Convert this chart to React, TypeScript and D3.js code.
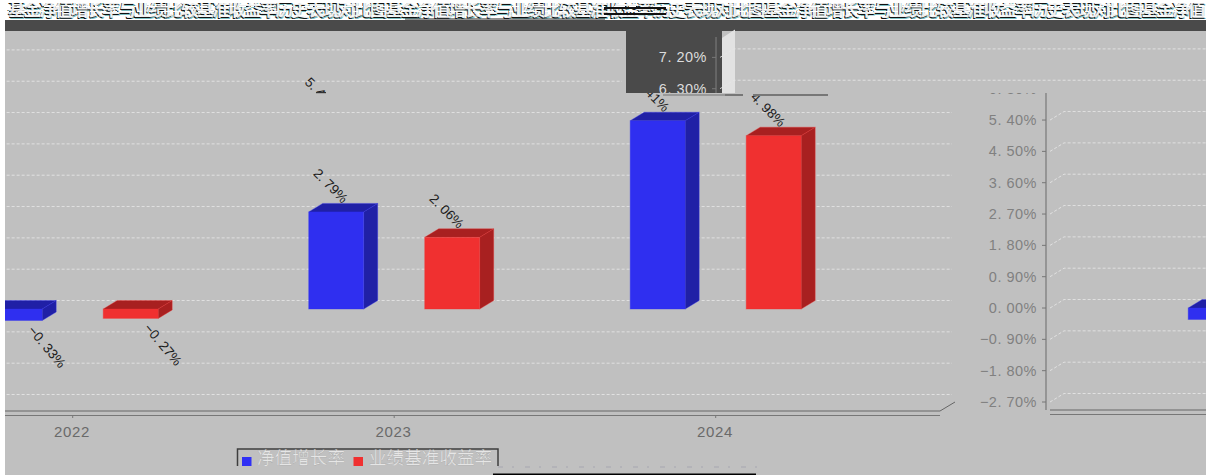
import React from "react";
import * as d3 from "d3";

const years = ["2022", "2023", "2024"];
const netGrowth = [-0.33, 2.79, 5.41];
const benchmark = [-0.27, 2.06, 4.98];
const yTicks = [-2.7, -1.8, -0.9, 0, 0.9, 1.8, 2.7, 3.6, 4.5, 5.4, 6.3, 7.2];
const legendNames = ["净值增长率", "业绩基准收益率"];
const titleText = "基金净值增长率与业绩比较基准收益率历史表现对比图基金净值增长率与业绩比较基准收益率历史表现对比图基金净值增长率与业绩比较基准收益率历史表现对比图基金净值";

const W = 1208, H = 475, LEFT = 5, RIGHT = 1206, PERIOD = 1201;
const BG = "#c0c0c0", DARK = "#4a4a4a";
const DX = 14, DY = 8.5, BAR_W = 55, OFF = 58;

const x = d3.scalePoint<string>().domain(years).range([72.7, 715.7]);
const y = d3.scaleLinear().domain([-2.7, 7.2]).range([403, 58.4]);
const poly = d3.line();
const fmt = (v: number) => d3.format(".2f")(v).replace("-", "−").replace(".", ". ") + "%";
const dataLabel = (v: number) => d3.format(".2f")(v).replace(".", ". ") + "%";

const axisX = -155, plotL = -137, plotR = 952, floorY = 411;

function Bar({ left, v, front, dark }: { left: number; v: number; front: string; dark: string }) {
  const y0 = y(0), yv = y(v);
  const top = Math.min(y0, yv), bottom = Math.max(y0, yv), r = left + BAR_W;
  const stroke = { stroke: front, strokeOpacity: 0.35, strokeWidth: 1 };
  return (
    <g>
      <path d={poly([[left, top], [left + DX, top - DY], [r + DX, top - DY], [r, top]])!} fill={dark} {...stroke} />
      <path d={poly([[r, top], [r + DX, top - DY], [r + DX, bottom - DY], [r, bottom]])!} fill={dark} {...stroke} />
      <rect x={left} y={top} width={BAR_W} height={bottom - top} fill={front} {...stroke} />
    </g>
  );
}

function Label({ cx, v }: { cx: number; v: number }) {
  const pos = v >= 0;
  const tx = pos ? cx + 6 : cx + 20;
  const ty = pos ? y(v) - 8 : y(v) + 4;
  return (
    <text
      transform={`translate(${tx},${ty}) rotate(${pos ? 45 : 50})`}
      textAnchor={pos ? "end" : "start"}
      dominantBaseline={pos ? "auto" : "hanging"}
      fontFamily="Liberation Sans"
      fontSize={13.5}
      fill="#1c1c1c"
    >
      {dataLabel(v)}
    </text>
  );
}

function Scene({ labelColor }: { labelColor: string }) {
  return (
    <g>
      {yTicks.map((t) => {
        const yy = y(t);
        return (
          <g key={t}>
            <path
              d={poly([[plotL - DX, yy], [plotL, yy - DY], [plotR, yy - DY]])!}
              fill="none"
              stroke="#e6e6e6"
              strokeWidth={1}
              strokeDasharray="3 2"
              strokeOpacity={0.85}
            />
            <line x1={axisX - 4} x2={axisX} y1={yy} y2={yy} stroke="#777" />
            <text
              x={axisX - 9}
              y={yy}
              dy="0.35em"
              textAnchor="end"
              fontFamily="Liberation Sans"
              fontSize={14.5}
              letterSpacing={0.5}
              fill={labelColor}
            >
              {fmt(t)}
            </text>
          </g>
        );
      })}
      <line x1={axisX} x2={axisX} y1={38} y2={floorY} stroke="#777" strokeWidth={1.2} />
      <path
        d={poly([[plotL - DX, floorY], [plotR - 12, floorY], [plotR + 3, floorY - DY - 0.5]])!}
        fill="none"
        stroke="#666"
      />
      <line x1={plotL - DX} x2={plotR - 12} y1={floorY + 4.5} y2={floorY + 4.5} stroke="#777" />
      {years.map((c, i) => {
        const cx = x(c)!;
        return (
          <g key={c}>
            <line x1={cx} x2={cx} y1={floorY + 4.5} y2={floorY + 7} stroke="#777" />
            <text
              x={cx - 0.7}
              y={432}
              dy="0.35em"
              textAnchor="middle"
              fontFamily="Liberation Sans"
              fontSize={15}
              letterSpacing={0.6}
              fill="#6a6a6a"
            >
              {c}
            </text>
            <Bar left={cx - OFF - BAR_W / 2} v={netGrowth[i]} front="#2f2ff0" dark="#2020a6" />
            <Bar left={cx + OFF - BAR_W / 2} v={benchmark[i]} front="#f03030" dark="#a82020" />
            <Label cx={cx - OFF} v={netGrowth[i]} />
            <Label cx={cx + OFF} v={benchmark[i]} />
          </g>
        );
      })}
    </g>
  );
}

function Layer({ id, dx, dy, labelColor = "#808080" }: { id: string; dx: number; dy: number; labelColor?: string }) {
  return (
    <g clipPath={`url(#${id})`}>
      <g transform={`translate(${dx},${dy})`}>
        <Scene labelColor={labelColor} />
      </g>
    </g>
  );
}

export default function App() {
  const legendY = 464;
  return (
    <svg width={W} height={H} style={{ position: "absolute", left: 0, top: 0, display: "block" }}>
      <defs>
        <clipPath id="mainL"><rect x={LEFT} y={93} width={975 - LEFT} height={H - 93} /></clipPath>
        <clipPath id="mainR"><rect x={975} y={93} width={RIGHT - 975} height={H - 93} /></clipPath>
        <clipPath id="bandL"><rect x={LEFT} y={31} width={626 - LEFT} height={62} /></clipPath>
        <clipPath id="bandR"><rect x={626} y={30} width={RIGHT - 626} height={63} /></clipPath>
        <clipPath id="legendClip"><rect x={230} y={440} width={280} height={26} /></clipPath>
        <clipPath id="titleClip"><rect x={LEFT} y={3} width={RIGHT - LEFT + 2} height={16} /></clipPath>
      </defs>

      <rect width={W} height={H} fill="#fff" />
      <rect x={LEFT} y={20} width={RIGHT - LEFT} height={H - 20} fill={BG} />
      <rect x={LEFT} y={20} width={RIGHT - LEFT} height={11} fill={DARK} />

      <g clipPath="url(#titleClip)" fontFamily="Noto Sans CJK SC" fontSize={18} fontWeight={700}>
        <text x={8} y={18} textLength={1198} lengthAdjust="spacing" fill="#108a90" opacity={0.55}>{titleText}</text>
        <text x={7} y={17} textLength={1198} lengthAdjust="spacing" fill="#111">{titleText}</text>
        <text x={7.8} y={15.6} textLength={1198} lengthAdjust="spacing" fill="#fff" opacity={0.92}>{titleText}</text>
      </g>
      <g stroke="#fff" strokeWidth={1.2}>
        <line x1={LEFT} x2={RIGHT} y1={6.5} y2={6.5} strokeDasharray="7 5 3 9 11 4" />
        <line x1={LEFT} x2={RIGHT} y1={11.5} y2={11.5} strokeDasharray="4 9 8 3 5 7" />
        <line x1={LEFT} x2={RIGHT} y1={16} y2={16} strokeDasharray="9 4 3 6 6 8" />
      </g>
      <rect x={604} y={7} width={62} height={2} fill="#111" />
      <rect x={604} y={13} width={62} height={2} fill="#111" />
      <rect x={405} y={18.5} width={200} height={1} fill="#222" />

      {/* upper band, displaced */}
      <rect x={626} y={30} width={96} height={63} fill={DARK} />
      <path d={poly([[722, 93], [722, 38], [735, 29.5], [735, 93]])!} fill="#e2e2e2" />
      <Layer id="bandL" dx={-330} dy={0} />
      <Layer id="bandR" dx={871} dy={-1} labelColor="#dcdcdc" />

      {/* main area */}
      <Layer id="mainL" dx={0} dy={0} />
      <Layer id="mainR" dx={PERIOD} dy={-1} />

      {/* seam fragments */}
      <rect x={316} y={92} width={10} height={1.2} fill="#333" />
      <rect x={663} y={94} width={80} height={2} fill="#999" />
      <rect x={725} y={94} width={18} height={2} fill="#777" />
      <rect x={753} y={94} width={75} height={2} fill="#777" />

      {/* legend, cut off by the seam */}
      <g clipPath="url(#legendClip)">
        <rect x={237.5} y={449} width={260.5} height={40} fill="none" stroke="#3e3e3e" strokeWidth={1.5} />
        <rect x={242} y={457} width={9.5} height={9.5} fill="#3030f5" />
        <rect x={353.5} y={457} width={9.5} height={9.5} fill="#f03030" />
        {legendNames.map((n, i) => (
          <text
            key={n}
            x={i === 0 ? 257 : 369}
            y={legendY}
            fontFamily="Noto Sans CJK SC"
            fontSize={17.6}
            fill="#e6e6e6"
            stroke="#8a8a8a"
            strokeWidth={0.2}
          >
            {n}
          </text>
        ))}
      </g>
      <line x1={498} x2={760} y1={467} y2={467} stroke="#a6a6b0" strokeWidth={1} strokeDasharray="5 9 2 11" />
      <rect x={493} y={473.5} width={263} height={1.5} fill="#000" />
    </svg>
  );
}
